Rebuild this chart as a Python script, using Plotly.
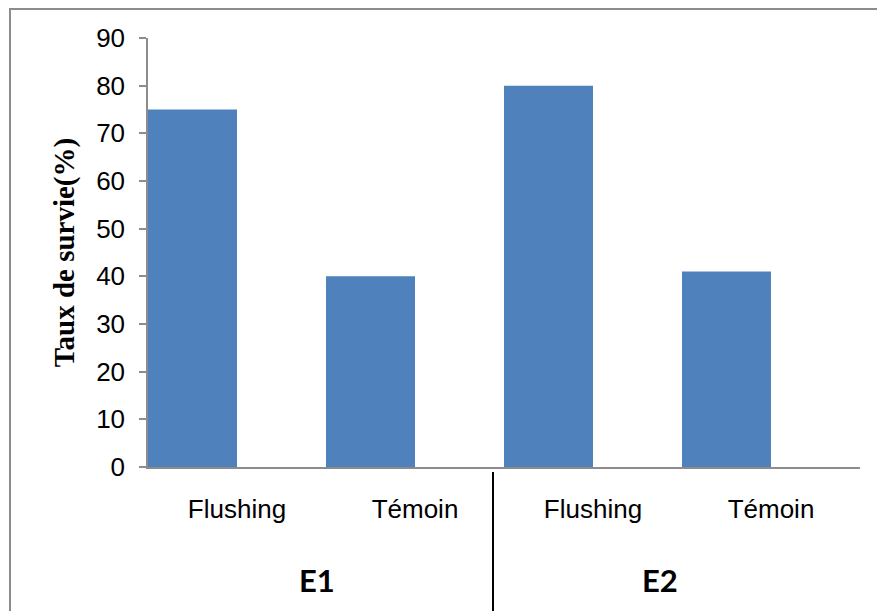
import plotly.graph_objects as go

groups = ["E1", "E1", "E2", "E2"]
treatments = ["Flushing", "Témoin", "Flushing", "Témoin"]
survival = [75, 40, 80, 41]
y_ticks = [0, 10, 20, 30, 40, 50, 60, 70, 80, 90]
group_labels = ["E1", "E2"]

cat_ids = [f"{g}|{t}" for g, t in zip(groups, treatments)]

W, H = 877, 611
L, R, T, B = 148, 17, 38, 144
pw, ph = W - L - R, H - T - B

fig = go.Figure(go.Bar(
    x=cat_ids, y=survival,
    marker=dict(color="#4F81BD", line=dict(width=0)),
    width=0.5, offset=-0.5,
))

def px_x(px):
    return (px - L) / pw

def px_y(py):
    return (H - B - py) / ph

shapes = [
    # outer chart frame
    dict(type="rect", xref="paper", yref="paper",
         x0=px_x(10), x1=px_x(890), y0=px_y(9), y1=px_y(640),
         line=dict(color="#8C8C8C", width=2), layer="below"),
    # group separator
    dict(type="line", xref="paper", yref="paper", x0=px_x(493), x1=px_x(493),
         y0=px_y(472), y1=px_y(640), line=dict(color="black", width=2)),
]

group_centers_px = [317, 660]
annotations = []
for g, cx in zip(group_labels, group_centers_px):
    annotations.append(dict(
        x=px_x(cx), xref="paper", y=px_y(580), yref="paper",
        text=f"<b>{g}</b>", showarrow=False,
        font=dict(family="Lato", size=31, color="black"),
        xanchor="center", yanchor="middle"))

fig.update_layout(
    width=W, height=H,
    margin=dict(l=L, r=R, t=T, b=B, autoexpand=False),
    paper_bgcolor="white", plot_bgcolor="white",
    showlegend=False,
    shapes=shapes, annotations=annotations,
    xaxis=dict(
        type="category", categoryarray=cat_ids,
        tickvals=cat_ids, ticktext=treatments,
        showline=True, linecolor="#8C8C8C", linewidth=1.5,
        ticks="", showgrid=False, zeroline=False,
        tickfont=dict(family="Liberation Sans", size=26, color="black"),
        ticklabelstandoff=18,
        range=[-0.5, 3.5],
    ),
    yaxis=dict(
        range=[0, 90], tickvals=y_ticks,
        showline=True, linecolor="#8C8C8C", linewidth=1.5,
        ticks="outside", ticklen=7, tickcolor="#8C8C8C", tickwidth=1.5,
        ticklabelstandoff=9,
        showgrid=False, zeroline=False,
        tickfont=dict(family="Liberation Sans", size=26, color="black"),
        title=dict(text="<b>Taux de survie(%)</b>",
                   font=dict(family="Liberation Serif", size=29, color="black"),
                   standoff=13),
    ),
    font=dict(family="Liberation Sans"),
)

fig.write_html("out.html", config={"displayModeBar": False},
               post_script="document.body.style.margin='0';document.body.style.overflow='hidden';")
